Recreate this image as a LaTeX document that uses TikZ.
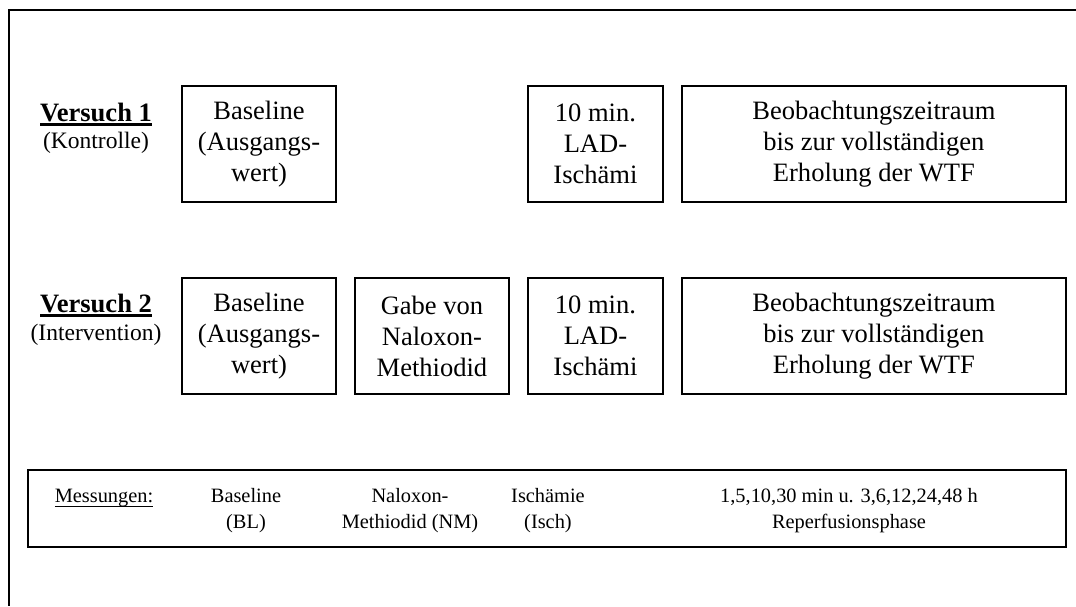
\documentclass[tikz,border=0pt]{standalone}
\usepackage{fontspec}
\setmainfont{Liberation Serif}
\usetikzlibrary{positioning}
\newcommand{\strichunter}[2]{\sbox0{#2}\rlap{\rule[-3pt]{\wd0}{#1}}\usebox0}
\tikzset{
block/.style = {draw, rectangle, line width=1.1pt, align=center, inner sep=0pt, outer sep=0pt, minimum height=2.32cm, font=\fontsize{15.1}{17.6}\selectfont},
blockbl/.style = {block, minimum width=3.08cm},
blockis/.style = {block, minimum width=2.7cm},
blockbe/.style = {block, minimum width=7.68cm},
versuch/.style = {anchor=base, inner sep=0pt, font=\fontsize{15.1}{17.6}\selectfont\bfseries},
versuchsub/.style = {anchor=base, inner sep=0pt, font=\fontsize{13.4}{15.4}\selectfont},
messbox/.style = {draw, rectangle, line width=1.1pt, minimum width=20.76cm, minimum height=1.54cm},
messtext/.style = {align=center, inner sep=0pt, font=\fontsize{11.6}{14.8}\selectfont},
rahmen/.style = {line width=0.85pt}
}
\begin{document}
\begin{tikzpicture}[x=0.02cm, y=-0.02cm]
						\useasboundingbox (0,0) rectangle (1076,606);
						\coordinate (rahmenr) at (1076,10);
						\coordinate (rahmenu) at (9,606);
						\draw[rahmen] (rahmenr) -| (rahmenu);
						\node[versuch] (v1) at (96,121) {\strichunter{1.7pt}{Versuch 1}};
						\node[versuchsub] (v1sub) at (96,148) {(Kontrolle)};
						\node[versuch] (v2) at (96,312) {\strichunter{1.7pt}{Versuch 2}};
						\node[versuchsub] (v2sub) at (96,340) {(Intervention)};
						\node[blockbl] (base2) at (259,336) {Baseline\\(Ausgangs-\\wert)};
						\node[blockbl, right=0.38cm of base2] (gabe2) {Gabe von\\Naloxon-\\Methiodid};
						\node[blockis, right=0.38cm of gabe2] (isch2) {10 min.\\LAD-\\Ischämi};
						\node[blockbe, right=0.38cm of isch2] (beob2) {Beobachtungszeitraum\\bis zur vollständigen\\Erholung der WTF};
						\node[blockbl, above=1.52cm of base2] (base1) {Baseline\\(Ausgangs-\\wert)};
						\node[blockis, above=1.52cm of isch2] (isch1) {10 min.\\LAD-\\Ischämi};
						\node[blockbe, above=1.52cm of beob2] (beob1) {Beobachtungszeitraum\\bis zur vollständigen\\Erholung der WTF};
						\node[messbox] (mess) at (547,508.5) {};
						\node[messtext, anchor=base] (messlabel) at (104,502) {\strichunter{0.85pt}{Messungen:}};
						\node[messtext] (messbl) at (246,511) {Baseline\\(BL)};
						\node[messtext] (messnm) at (410,511) {Naloxon-\\Methiodid (NM)};
						\node[messtext] (messisch) at (548,511) {Ischämie\\(Isch)};
						\node[messtext] (messrep) at (849,511) {1,5,10,30 min u. 3,6,12,24,48 h\\Reperfusionsphase};
					\end{tikzpicture}
\end{document}
